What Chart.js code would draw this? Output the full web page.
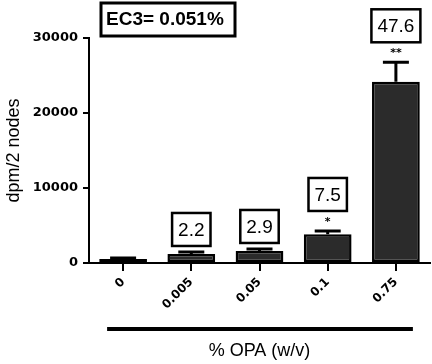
<!DOCTYPE html>
<html>
<head>
<meta charset="utf-8">
<script src="https://cdn.jsdelivr.net/npm/chart.js@4"></script>
<style>
  body { margin: 0; background: #fff; }
  #chart { display: block; }
</style>
</head>
<body>
<canvas id="chart" width="432" height="364"></canvas>
<script>
const doses = ["0", "0.005", "0.05", "0.1", "0.75"];
const dpmMean = [530, 1200, 1600, 3830, 24170];
const dpmSem = [140, 270, 270, 440, 2590];
const siValues = ["", "2.2", "2.9", "7.5", "47.6"];
const sigMarks = ["", "", "", "*", "**"];
const yTicks = [0, 10000, 20000, 30000];

// error bars, SI boxes, stars, EC3 box and the bracket under the x labels
const annotations = {
    id: "annotations",
    afterDatasetsDraw(chart) {
        const ctx = chart.ctx;
        const y = chart.scales.y;
        const bars = chart.getDatasetMeta(0).data;
        ctx.save();
        ctx.strokeStyle = "#000";
        ctx.fillStyle = "#000";
        bars.forEach((bar, i) => {
            const top = y.getPixelForValue(dpmMean[i]);
            const cap = y.getPixelForValue(dpmMean[i] + dpmSem[i]);
            ctx.lineWidth = 3;
            ctx.beginPath();
            ctx.moveTo(bar.x, top);
            ctx.lineTo(bar.x, cap);
            ctx.moveTo(bar.x - 13, cap);
            ctx.lineTo(bar.x + 13, cap);
            ctx.stroke();

            let boxBottom = cap - 6;
            if (sigMarks[i]) {
                ctx.font = "bold 11px 'DejaVu Sans'";
                ctx.textAlign = "center";
                ctx.textBaseline = "middle";
                ctx.fillText(sigMarks[i], bar.x, cap - 9);
                boxBottom = cap - 20;
            }
            if (siValues[i]) {
                ctx.font = "19px 'Liberation Sans'";
                const w = ctx.measureText(siValues[i]).width + 12;
                const h = 33;
                ctx.lineWidth = 2.5;
                ctx.strokeRect(bar.x - w / 2, boxBottom - h, w, h);
                ctx.textAlign = "center";
                ctx.textBaseline = "middle";
                ctx.fillText(siValues[i], bar.x, boxBottom - h / 2 + 1);
            }
        });
        ctx.restore();
    },
    afterDraw(chart) {
        const ctx = chart.ctx;
        const area = chart.chartArea;
        const x = chart.scales.x;
        ctx.save();
        // EC3 box
        ctx.strokeStyle = "#000";
        ctx.fillStyle = "#000";
        ctx.lineWidth = 3;
        ctx.strokeRect(area.left + 12, 3, 134, 33);
        ctx.font = "bold 19px 'Liberation Sans'";
        ctx.textAlign = "left";
        ctx.textBaseline = "middle";
        ctx.fillText("EC3= 0.051%", area.left + 17, 20);
        // bracket line
        ctx.lineWidth = 4;
        ctx.beginPath();
        ctx.moveTo(x.getPixelForValue(0) - 16, 329);
        ctx.lineTo(x.getPixelForValue(doses.length - 1) + 17, 329);
        ctx.stroke();
        ctx.restore();
    }
};

const ctx = document.getElementById("chart").getContext("2d");

new Chart(ctx, {
    type: "bar",
    data: {
        labels: doses,
        datasets: [{
            data: dpmMean,
            backgroundColor: "#2b2b2b",
            borderColor: "#000",
            borderWidth: 2.5,
            borderSkipped: false,
            barPercentage: 0.7,
            categoryPercentage: 1.0
        }]
    },
    options: {
        responsive: false,
        animation: false,
        layout: { padding: { top: 38, right: 2, left: 0, bottom: 0 } },
        plugins: {
            legend: { display: false },
            tooltip: { enabled: false }
        },
        scales: {
            x: {
                afterFit: (scale) => { scale.height = 101; },
                grid: {
                    offset: false,
                    drawOnChartArea: false,
                    drawTicks: true,
                    tickLength: 8,
                    color: "#000",
                    lineWidth: 2
                },
                border: { display: true, color: "#000", width: 2 },
                ticks: {
                    color: "#000",
                    font: { family: "'DejaVu Sans'", size: 12, weight: "bold" },
                    minRotation: 45,
                    maxRotation: 45,
                    padding: 4
                },
                title: {
                    display: true,
                    text: "% OPA (w/v)",
                    color: "#000",
                    font: { family: "'Liberation Sans'", size: 18 },
                    padding: { top: 0, bottom: 2 }
                }
            },
            y: {
                min: 0,
                max: 30000,
                afterFit: (scale) => { scale.width = 89; },
                afterBuildTicks: (scale) => { scale.ticks = yTicks.map(v => ({ value: v })); },
                grid: {
                    drawOnChartArea: false,
                    drawTicks: true,
                    tickLength: 6,
                    color: "#000",
                    lineWidth: 2
                },
                border: { display: true, color: "#000", width: 2 },
                ticks: {
                    color: "#000",
                    font: { family: "'DejaVu Sans'", size: 13, weight: "bold" },
                    padding: 5,
                    callback: (v) => String(v)
                },
                title: {
                    display: true,
                    text: "dpm/2 nodes",
                    color: "#000",
                    font: { family: "'Liberation Sans'", size: 18 },
                    padding: { top: 3, bottom: 0 }
                }
            }
        }
    },
    plugins: [annotations]
});
</script>
</body>
</html>
